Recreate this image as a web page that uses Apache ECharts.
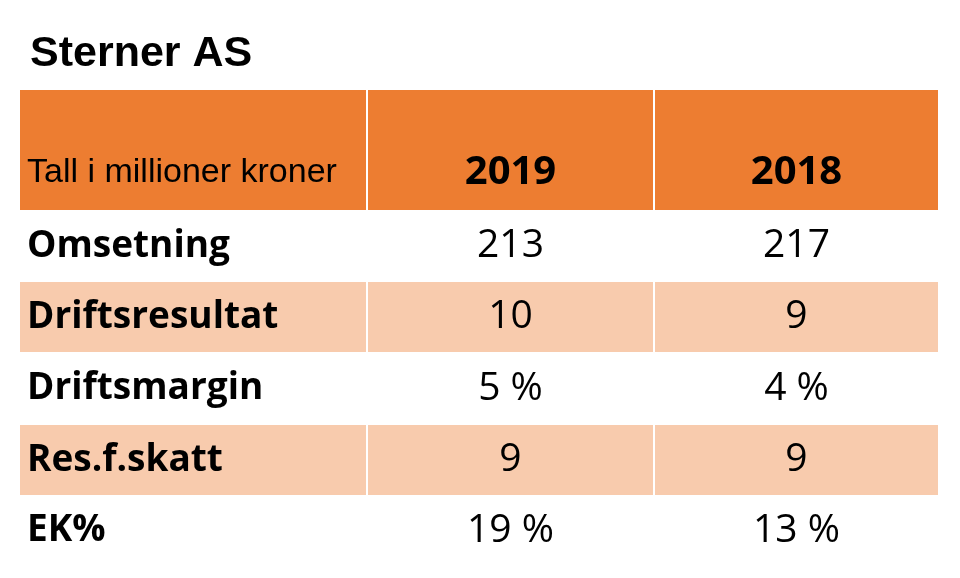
<!DOCTYPE html>
<html><head><meta charset="utf-8">
<script src="https://cdn.jsdelivr.net/npm/echarts@6/dist/echarts.min.js"></script>
<style>html,body{margin:0;background:#fff}#c{width:960px;height:578px}</style>
</head><body><div id="c"></div>
<script>
const title = "Sterner AS";
const headerLabel = "Tall i millioner kroner";
const years = ["2019", "2018"];
const rowLabels = ["Omsetning", "Driftsresultat", "Driftsmargin", "Res.f.skatt", "EK%"];
const values2019 = ["213", "10", "5 %", "9", "19 %"];
const values2018 = ["217", "9", "4 %", "9", "13 %"];

const colEdges = [0, 347, 634, 918];
const rowEdges = [0, 120, 192, 262, 335, 405, 476];
const cells = [];
cells.push([0, 0, headerLabel]);
years.forEach((y, i) => cells.push([i + 1, 0, y]));
rowLabels.forEach((r, i) => {
  cells.push([0, i + 1, r]);
  cells.push([1, i + 1, values2019[i]]);
  cells.push([2, i + 1, values2018[i]]);
});
const font = "'Open Sans', Lato, sans-serif";
const chart = echarts.init(document.getElementById('c'));
chart.setOption({
  animation: false,
  title: { text: title, left: 25, top: 28, textStyle: { fontFamily: 'Liberation Sans, Arial', fontSize: 43, fontWeight: 'bold', color: '#000' } },
  grid: { left: 20, top: 90, width: 918, height: 476 },
  xAxis: { type: 'value', min: 0, max: 918, show: false },
  yAxis: { type: 'value', min: 0, max: 476, inverse: true, show: false },
  series: [{
    type: 'custom',
    data: cells,
    renderItem: (params, api) => {
      const c = api.value(0), r = api.value(1), t = cells[params.dataIndex][2];
      const p0 = api.coord([colEdges[c], rowEdges[r]]);
      const p1 = api.coord([colEdges[c + 1], rowEdges[r + 1]]);
      const fill = r === 0 ? '#ED7D31' : (r % 2 === 0 ? '#F8CBAD' : '#ffffff');
      const x0 = p0[0] + (c > 0 ? 1 : 0), x1 = p1[0] - (c < 2 ? 1 : 0);
      const header = r === 0, first = c === 0;
      return {
        type: 'group', children: [
          { type: 'rect', shape: { x: x0, y: p0[1], width: x1 - x0, height: p1[1] - p0[1] }, style: { fill: fill } },
          { type: 'text', style: {
              text: t,
              x: first ? p0[0] + 7 : (x0 + x1) / 2,
              y: header ? p0[1] + 83 : (p0[1] + p1[1]) / 2,
              align: first ? 'left' : 'center', verticalAlign: 'middle',
              fontFamily: header && first ? 'Liberation Sans, Arial' : font,
              fontSize: header && first ? 34 : (header ? 40 : (first ? 37 : 39)),
              fontWeight: (header && !first) || (!header && first) ? 'bold' : 'normal',
              fill: '#000'
          } }
        ]
      };
    }
  }]
});
</script></body></html>
